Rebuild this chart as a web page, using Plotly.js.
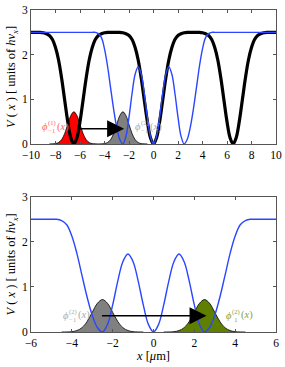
<!DOCTYPE html>
<html><head><meta charset="utf-8">
<script src="https://cdn.plot.ly/plotly-3.0.1.min.js"></script>
<style>html,body{margin:0;padding:0;background:#fff}#c{width:285px;height:367px}</style>
</head><body><div id="c"></div>
<script>
// sampled x grids
var xTop = [-10,-9.75,-9.5,-9.25,-9,-8.75,-8.5,-8.25,-8,-7.75,-7.5,-7.25,-7,-6.75,-6.5,-6.25,-6,-5.75,-5.5,-5.25,-5,-4.75,-4.5,-4.25,-4,-3.75,-3.5,-3.25,-3,-2.75,-2.5,-2.25,-2,-1.75,-1.5,-1.25,-1,-0.75,-0.5,-0.25,0,0.25,0.5,0.75,1,1.25,1.5,1.75,2,2.25,2.5,2.75,3,3.25,3.5,3.75,4,4.25,4.5,4.75,5,5.25,5.5,5.75,6,6.25,6.5,6.75,7,7.25,7.5,7.75,8,8.25,8.5,8.75,9,9.25,9.5,9.75,10];
// black potential (top panel), units of h nu_x
var blackV = [2.5,2.5,2.5,2.5,2.49,2.47,2.43,2.34,2.16,1.88,1.47,0.98,0.50,0.14,0,0.14,0.50,0.98,1.47,1.88,2.16,2.34,2.43,2.47,2.49,2.5,2.5,2.5,2.5,2.5,2.49,2.47,2.43,2.34,2.16,1.88,1.47,0.98,0.50,0.14,0,0.14,0.50,0.98,1.47,1.88,2.16,2.34,2.43,2.47,2.49,2.5,2.5,2.5,2.5,2.5,2.49,2.47,2.43,2.34,2.16,1.88,1.47,0.98,0.50,0.14,0,0.14,0.50,0.98,1.47,1.88,2.16,2.34,2.43,2.47,2.49,2.5,2.5,2.5,2.5];
// blue potential (top panel)
var blueVTop = [2.5,2.5,2.5,2.5,2.5,2.5,2.5,2.5,2.5,2.5,2.5,2.5,2.5,2.5,2.5,2.5,2.5,2.5,2.5,2.5,2.5,2.5,2.47,2.38,2.13,1.74,1.25,0.77,0.37,0.10,0,0.17,0.60,1.13,1.56,1.73,1.56,1.13,0.60,0.17,0,0.17,0.60,1.13,1.56,1.73,1.56,1.13,0.60,0.17,0,0.10,0.37,0.77,1.25,1.74,2.13,2.38,2.47,2.5,2.5,2.5,2.5,2.5,2.5,2.5,2.5,2.5,2.5,2.5,2.5,2.5,2.5,2.5,2.5,2.5,2.5,2.5,2.5,2.5,2.5];
var xBot = [-6,-5.75,-5.5,-5.25,-5,-4.75,-4.5,-4.25,-4,-3.75,-3.5,-3.25,-3,-2.75,-2.5,-2.25,-2,-1.75,-1.5,-1.25,-1,-0.75,-0.5,-0.25,0,0.25,0.5,0.75,1,1.25,1.5,1.75,2,2.25,2.5,2.75,3,3.25,3.5,3.75,4,4.25,4.5,4.75,5,5.25,5.5,5.75,6];
var blueVBot = [2.5,2.5,2.5,2.5,2.5,2.5,2.47,2.38,2.13,1.74,1.25,0.77,0.37,0.10,0,0.17,0.60,1.13,1.56,1.73,1.56,1.13,0.60,0.17,0,0.17,0.60,1.13,1.56,1.73,1.56,1.13,0.60,0.17,0,0.10,0.37,0.77,1.25,1.74,2.13,2.38,2.47,2.5,2.5,2.5,2.5,2.5,2.5];
// wave packets
var packetY = [0,0.002,0.008,0.032,0.097,0.234,0.437,0.635,0.72,0.635,0.437,0.234,0.097,0.032,0.008,0.002,0];
var redX   = [-8.5,-8.25,-8,-7.75,-7.5,-7.25,-7,-6.75,-6.5,-6.25,-6,-5.75,-5.5,-5.25,-5,-4.75,-4.5];
var grayX  = [-4.5,-4.25,-4,-3.75,-3.5,-3.25,-3,-2.75,-2.5,-2.25,-2,-1.75,-1.5,-1.25,-1,-0.75,-0.5];
var greenX = [0.5,0.75,1,1.25,1.5,1.75,2,2.25,2.5,2.75,3,3.25,3.5,3.75,4,4.25,4.5];
// arrows [x0, x1, y]
var arrowTop = [-6.2, -2.4, 0.34];
var arrowBot = [-2.6, 2.6, 0.36];
// packet labels [x, y, superscript, subscript]
var labelRed    = [-9.3, 0.38, '(1)', '−1'];
var labelGrayT  = [-1.7, 0.38, '(2)', '−1'];
var labelGrayB  = [-4.55, 0.37, '(2)', '−1'];
var labelGreen  = [3.45, 0.37, '(2)', '1'];
// axis ticks
var xTicksTop = [-10,-8,-6,-4,-2,0,2,4,6,8,10];
var xTicksBot = [-6,-4,-2,0,2,4,6];
var yTicks = [0,1,2,3];

var F = "Liberation Serif, Times New Roman, serif";
function packet(x, color, xa, ya){
  return {x:x, y:packetY, xaxis:xa, yaxis:ya, mode:'lines', type:'scatter',
    line:{color:'#000', width:0.8, shape:'spline'}, fill:'tozeroy', fillcolor:color, hoverinfo:'skip'};
}
var data = [
  packet(redX, '#ff0000', 'x', 'y'),
  packet(grayX, '#808080', 'x', 'y'),
  {x:xTop, y:blackV, xaxis:'x', yaxis:'y', mode:'lines', line:{color:'#000', width:3.2, shape:'spline'}},
  {x:xTop, y:blueVTop, xaxis:'x', yaxis:'y', mode:'lines', line:{color:'#2a46ff', width:1.4, shape:'spline'}},
  packet(grayX, '#808080', 'x2', 'y2'),
  packet(greenX, '#5f7f00', 'x2', 'y2'),
  {x:xBot, y:blueVBot, xaxis:'x2', yaxis:'y2', mode:'lines', line:{color:'#2a46ff', width:1.4, shape:'spline'}}
];
function xax(range, ticks, anchor){
  return {range:range, tickvals:ticks, ticks:'inside', ticklen:3, tickcolor:'#555', showline:true, linecolor:'#555', linewidth:1,
    mirror:'ticks', showgrid:false, zeroline:false, anchor:anchor, tickfont:{family:F, size:11.5, color:'#000'}};
}
function yax(domain, anchor){
  return {range:[0,3], domain:domain, tickvals:yTicks, ticks:'inside', ticklen:3, tickcolor:'#555', showline:true, linecolor:'#555', linewidth:1,
    mirror:'ticks', showgrid:false, zeroline:false, anchor:anchor, tickfont:{family:F, size:11.5, color:'#000'},
    title:{text:'<i>V</i> ( <i>x</i> ) [ units of <i>hν</i><sub><i>x</i></sub>]', font:{family:F, size:12.5, color:'#000'}, standoff:3}};
}
function phiLabel(L, xr, yr, color){
  var base = {xref:xr, yref:yr, x:L[0], y:L[1], xanchor:'left', yanchor:'middle', showarrow:false};
  return [
    Object.assign({}, base, {text:'<i>ϕ</i>', font:{family:F, size:10.5, color:color}}),
    Object.assign({}, base, {text:L[2]+'<br>'+L[3], xshift:6, yshift:0, font:{family:F, size:6.5, color:color}}),
    Object.assign({}, base, {text:'(<i>x</i>)', xshift:15, font:{family:F, size:10.5, color:color}})
  ];
}
var ann = [
  {xref:'x', yref:'y', axref:'x', ayref:'y', x:arrowTop[1], y:arrowTop[2], ax:arrowTop[0], ay:arrowTop[2], showarrow:true, arrowhead:2, arrowsize:2, arrowwidth:1.7, arrowcolor:'#000', text:''},
  {xref:'x2', yref:'y2', axref:'x2', ayref:'y2', x:arrowBot[1], y:arrowBot[2], ax:arrowBot[0], ay:arrowBot[2], showarrow:true, arrowhead:2, arrowsize:2, arrowwidth:1.7, arrowcolor:'#000', text:''}
].concat(phiLabel(labelRed,'x','y','#ff6666'), phiLabel(labelGrayT,'x','y','#aaaaaa'),
         phiLabel(labelGrayB,'x2','y2','#aaaaaa'), phiLabel(labelGreen,'x2','y2','#8c9e3c'));
var layout = {
  width:285, height:367, margin:{l:31, r:9, t:10, b:35}, showlegend:false,
  paper_bgcolor:'#fff', plot_bgcolor:'#fff',
  xaxis: xax([-10,10], xTicksTop, 'y'),
  yaxis: yax([0.584,1], 'x'),
  xaxis2: Object.assign(xax([-6,6], xTicksBot, 'y2'), {title:{text:'<i>x</i> [<i>μ</i>m]', font:{family:F, size:12.5, color:'#000'}, standoff:3}}),
  yaxis2: yax([0,0.42], 'x2'),
  annotations: ann
};
Plotly.newPlot('c', data, layout, {displayModeBar:false, staticPlot:true});
</script></body></html>
